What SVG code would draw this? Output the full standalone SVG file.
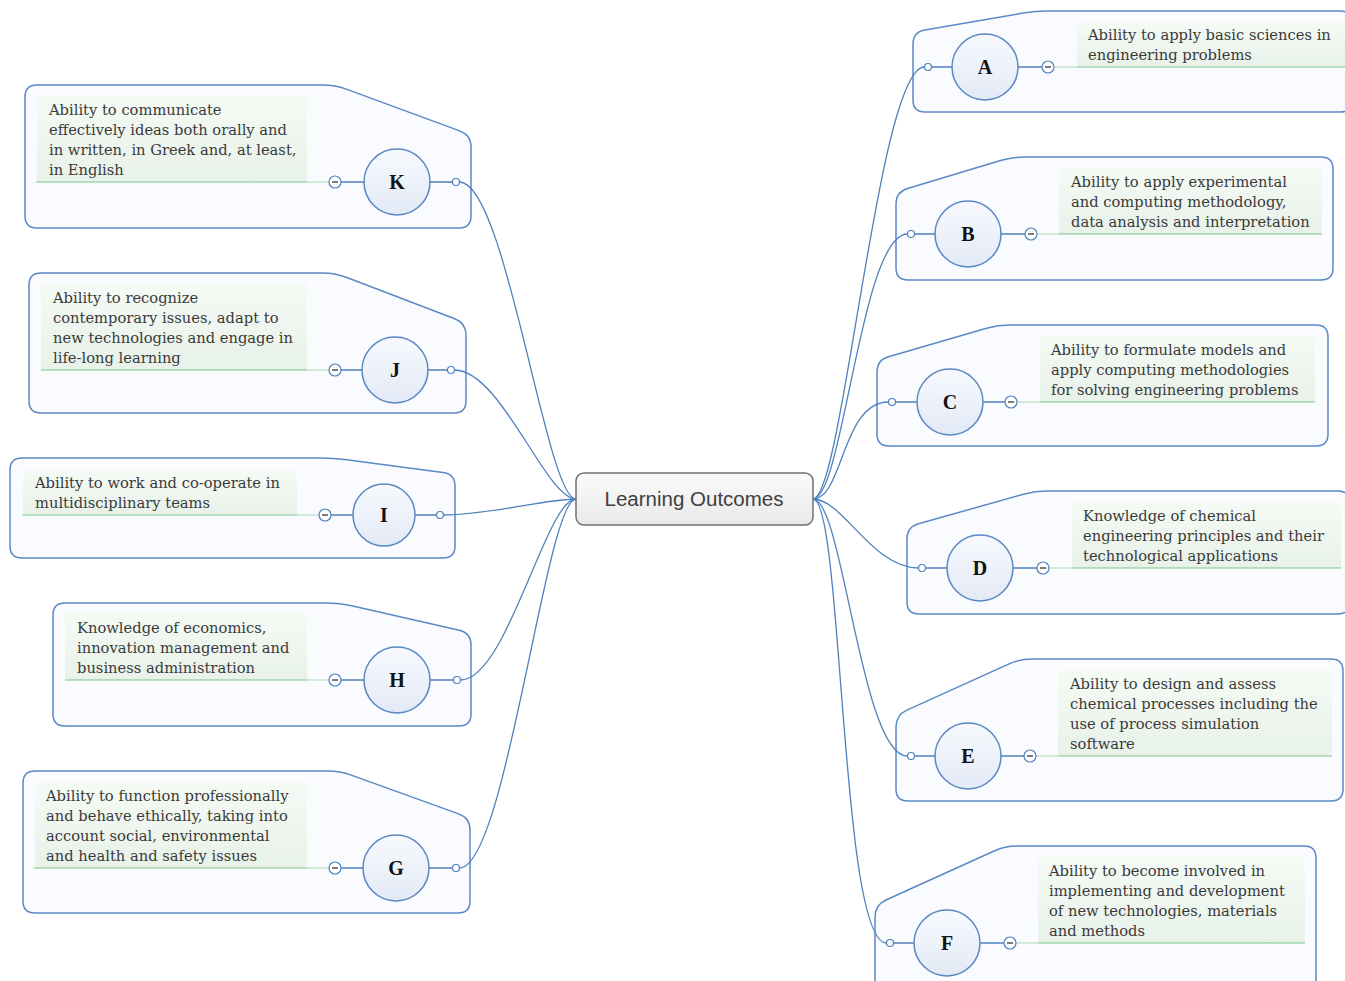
<svg xmlns="http://www.w3.org/2000/svg" width="1345" height="981" viewBox="0 0 1345 981">
<defs>
<linearGradient id="gc" x1="0" y1="0" x2="0" y2="1"><stop offset="0" stop-color="#f7f9fd"/><stop offset="1" stop-color="#e3eaf6"/></linearGradient>
<linearGradient id="gt" x1="0" y1="0" x2="0" y2="1"><stop offset="0" stop-color="#f5faf5"/><stop offset="1" stop-color="#e8f2e9"/></linearGradient>
<linearGradient id="gm" x1="0" y1="0" x2="0" y2="1"><stop offset="0" stop-color="#fbfbfb"/><stop offset="1" stop-color="#e9e9e9"/></linearGradient>
</defs>
<style>
.box{fill:#f9fbfe;stroke:#5a89c6;stroke-width:1.5}
.tb{fill:url(#gt)}
.ul{stroke:#7cc68a;stroke-width:1.2}
.ul2{stroke:#b9dfc0;stroke-width:1.2}
.lk{stroke:#4f81bd;stroke-width:1.3;fill:none}
.nd{fill:url(#gc);stroke:#5b87c3;stroke-width:1.5}
.dot{fill:#fff;stroke:#4f81bd;stroke-width:1.2}
.mn{fill:#fff;stroke:#4f81bd;stroke-width:1.2}
.bar{stroke:#444;stroke-width:1.4}
.t{font-family:"DejaVu Serif",serif;font-size:14.7px;fill:#3a3a3a}
.lt{font-family:"Liberation Serif",serif;font-weight:bold;font-size:20px;fill:#111;text-anchor:middle}
.ct{font-family:"Liberation Sans",Arial,sans-serif;font-size:20.5px;fill:#404040;text-anchor:middle}
</style>

<g id="center">
<rect x="576" y="473" width="237" height="52" rx="8" fill="url(#gm)" stroke="#707070" stroke-width="1.5"/>
<text class="ct" x="694" y="506">Learning Outcomes</text>
</g>

<g id="node-K">
<path class="box" d="M37,85 H323 Q335,85 346.3,89.1 L459.7,130.9 Q471,135 471,147 V216 Q471,228 459,228 H37 Q25,228 25,216 V97 Q25,85 37,85 Z"/>
<rect class="tb" x="37" y="95" width="270" height="87"/>
<line class="ul" x1="36" y1="182" x2="307" y2="182"/><line class="ul2" x1="307" y1="182" x2="329" y2="182"/>
<text class="t"><tspan x="49" y="115">Ability to communicate</tspan><tspan x="49" y="135">effectively ideas both orally and</tspan><tspan x="49" y="155">in written, in Greek and, at least,</tspan><tspan x="49" y="175">in English</tspan></text>
<line class="lk" x1="341" y1="182" x2="456" y2="182"/>
<circle class="nd" cx="397" cy="182" r="33"/><text class="lt" x="397" y="189">K</text>
<circle class="mn" cx="335" cy="182" r="6"/><line class="bar" x1="332" y1="182" x2="338" y2="182"/>
<circle class="dot" cx="456" cy="182" r="3.5"/>
</g>

<g id="node-J">
<path class="box" d="M41,273 H323 Q335,273 346.2,277.3 L454.8,318.7 Q466,323 466,335 V401 Q466,413 454,413 H41 Q29,413 29,401 V285 Q29,273 41,273 Z"/>
<rect class="tb" x="41" y="283" width="266" height="87"/>
<line class="ul" x1="41" y1="370" x2="307" y2="370"/><line class="ul2" x1="307" y1="370" x2="329" y2="370"/>
<text class="t"><tspan x="53" y="303">Ability to recognize</tspan><tspan x="53" y="323">contemporary issues, adapt to</tspan><tspan x="53" y="343">new technologies and engage in</tspan><tspan x="53" y="363">life-long learning</tspan></text>
<line class="lk" x1="341" y1="370" x2="451" y2="370"/>
<circle class="nd" cx="395" cy="370" r="33"/><text class="lt" x="395" y="377">J</text>
<circle class="mn" cx="335" cy="370" r="6"/><line class="bar" x1="332" y1="370" x2="338" y2="370"/>
<circle class="dot" cx="451" cy="370" r="3.5"/>
</g>

<g id="node-I">
<path class="box" d="M22,458 H321 Q333,458 344.9,459.6 L443.1,472.4 Q455,474 455,486 V546 Q455,558 443,558 H22 Q10,558 10,546 V470 Q10,458 22,458 Z"/>
<rect class="tb" x="23" y="470" width="274" height="45"/>
<line class="ul" x1="22" y1="515" x2="297" y2="515"/><line class="ul2" x1="297" y1="515" x2="319" y2="515"/>
<text class="t"><tspan x="35" y="488">Ability to work and co-operate in</tspan><tspan x="35" y="508">multidisciplinary teams</tspan></text>
<line class="lk" x1="331" y1="515" x2="440" y2="515"/>
<circle class="nd" cx="384" cy="515" r="31"/><text class="lt" x="384" y="522">I</text>
<circle class="mn" cx="325" cy="515" r="6"/><line class="bar" x1="322" y1="515" x2="328" y2="515"/>
<circle class="dot" cx="440" cy="515" r="3.5"/>
</g>

<g id="node-H">
<path class="box" d="M65,603 H328 Q340,603 351.7,605.7 L459.3,630.3 Q471,633 471,645 V714 Q471,726 459,726 H65 Q53,726 53,714 V615 Q53,603 65,603 Z"/>
<rect class="tb" x="65" y="613" width="242" height="67"/>
<line class="ul" x1="65" y1="680" x2="307" y2="680"/><line class="ul2" x1="307" y1="680" x2="329" y2="680"/>
<text class="t"><tspan x="77" y="633">Knowledge of economics,</tspan><tspan x="77" y="653">innovation management and</tspan><tspan x="77" y="673">business administration</tspan></text>
<line class="lk" x1="341" y1="680" x2="457" y2="680"/>
<circle class="nd" cx="397" cy="680" r="33"/><text class="lt" x="397" y="687">H</text>
<circle class="mn" cx="335" cy="680" r="6"/><line class="bar" x1="332" y1="680" x2="338" y2="680"/>
<circle class="dot" cx="457" cy="680" r="3.5"/>
</g>

<g id="node-G">
<path class="box" d="M35,771 H328 Q340,771 351.3,775.1 L458.7,813.9 Q470,818 470,830 V901 Q470,913 458,913 H35 Q23,913 23,901 V783 Q23,771 35,771 Z"/>
<rect class="tb" x="35" y="782" width="272" height="86"/>
<line class="ul" x1="34" y1="868" x2="307" y2="868"/><line class="ul2" x1="307" y1="868" x2="329" y2="868"/>
<text class="t"><tspan x="46" y="801">Ability to function professionally</tspan><tspan x="46" y="821">and behave ethically, taking into</tspan><tspan x="46" y="841">account social, environmental</tspan><tspan x="46" y="861">and health and safety issues</tspan></text>
<line class="lk" x1="341" y1="868" x2="456" y2="868"/>
<circle class="nd" cx="396" cy="868" r="33"/><text class="lt" x="396" y="875">G</text>
<circle class="mn" cx="335" cy="868" r="6"/><line class="bar" x1="332" y1="868" x2="338" y2="868"/>
<circle class="dot" cx="456" cy="868" r="3.5"/>
</g>

<g id="node-A">
<path class="box" d="M913,100 V44 Q913,32 924.8,30 L1023.2,13 Q1035,11 1047,11 H1340 Q1352,11 1352,23 V100 Q1352,112 1340,112 H925 Q913,112 913,100 Z"/>
<rect class="tb" x="1077" y="22" width="268" height="45"/>
<line class="ul2" x1="1054" y1="67" x2="1077" y2="67"/><line class="ul" x1="1077" y1="67" x2="1345" y2="67"/>
<text class="t"><tspan x="1088" y="40">Ability to apply basic sciences in</tspan><tspan x="1088" y="60">engineering problems</tspan></text>
<line class="lk" x1="928" y1="67" x2="1042" y2="67"/>
<circle class="nd" cx="985" cy="67" r="33"/><text class="lt" x="985" y="74">A</text>
<circle class="mn" cx="1048" cy="67" r="6"/><line class="bar" x1="1045" y1="67" x2="1051" y2="67"/>
<circle class="dot" cx="928" cy="67" r="3.5"/>
</g>

<g id="node-B">
<path class="box" d="M896,268 V204 Q896,192 907.5,188.5 L1000.5,160.5 Q1012,157 1024,157 H1321 Q1333,157 1333,169 V268 Q1333,280 1321,280 H908 Q896,280 896,268 Z"/>
<rect class="tb" x="1059" y="168" width="263" height="66"/>
<line class="ul2" x1="1037" y1="234" x2="1059" y2="234"/><line class="ul" x1="1059" y1="234" x2="1322" y2="234"/>
<text class="t"><tspan x="1071" y="187">Ability to apply experimental</tspan><tspan x="1071" y="207">and computing methodology,</tspan><tspan x="1071" y="227">data analysis and interpretation</tspan></text>
<line class="lk" x1="911" y1="234" x2="1025" y2="234"/>
<circle class="nd" cx="968" cy="234" r="33"/><text class="lt" x="968" y="241">B</text>
<circle class="mn" cx="1031" cy="234" r="6"/><line class="bar" x1="1028" y1="234" x2="1034" y2="234"/>
<circle class="dot" cx="911" cy="234" r="3.5"/>
</g>

<g id="node-C">
<path class="box" d="M877,434 V372 Q877,360 888.5,356.7 L986.5,328.3 Q998,325 1010,325 H1316 Q1328,325 1328,337 V434 Q1328,446 1316,446 H889 Q877,446 877,434 Z"/>
<rect class="tb" x="1040" y="335" width="275" height="67"/>
<line class="ul2" x1="1017" y1="402" x2="1040" y2="402"/><line class="ul" x1="1040" y1="402" x2="1315" y2="402"/>
<text class="t"><tspan x="1051" y="355">Ability to formulate models and</tspan><tspan x="1051" y="375">apply computing methodologies</tspan><tspan x="1051" y="395">for solving engineering problems</tspan></text>
<line class="lk" x1="892" y1="402" x2="1005" y2="402"/>
<circle class="nd" cx="950" cy="402" r="33"/><text class="lt" x="950" y="409">C</text>
<circle class="mn" cx="1011" cy="402" r="6"/><line class="bar" x1="1008" y1="402" x2="1014" y2="402"/>
<circle class="dot" cx="892" cy="402" r="3.5"/>
</g>

<g id="node-D">
<path class="box" d="M907,602 V539 Q907,527 918.5,523.8 L1023.5,494.2 Q1035,491 1047,491 H1338 Q1350,491 1350,503 V602 Q1350,614 1338,614 H919 Q907,614 907,602 Z"/>
<rect class="tb" x="1072" y="502" width="269" height="66"/>
<line class="ul2" x1="1049" y1="568" x2="1072" y2="568"/><line class="ul" x1="1072" y1="568" x2="1341" y2="568"/>
<text class="t"><tspan x="1083" y="521">Knowledge of chemical</tspan><tspan x="1083" y="541">engineering principles and their</tspan><tspan x="1083" y="561">technological applications</tspan></text>
<line class="lk" x1="922" y1="568" x2="1037" y2="568"/>
<circle class="nd" cx="980" cy="568" r="33"/><text class="lt" x="980" y="575">D</text>
<circle class="mn" cx="1043" cy="568" r="6"/><line class="bar" x1="1040" y1="568" x2="1046" y2="568"/>
<circle class="dot" cx="922" cy="568" r="3.5"/>
</g>

<g id="node-E">
<path class="box" d="M896,789 V727 Q896,715 906.9,710.1 L1009.1,663.9 Q1020,659 1032,659 H1331 Q1343,659 1343,671 V789 Q1343,801 1331,801 H908 Q896,801 896,789 Z"/>
<rect class="tb" x="1058" y="670" width="274" height="86"/>
<line class="ul2" x1="1036" y1="756" x2="1058" y2="756"/><line class="ul" x1="1058" y1="756" x2="1332" y2="756"/>
<text class="t"><tspan x="1070" y="689">Ability to design and assess</tspan><tspan x="1070" y="709">chemical processes including the</tspan><tspan x="1070" y="729">use of process simulation</tspan><tspan x="1070" y="749">software</tspan></text>
<line class="lk" x1="911" y1="756" x2="1024" y2="756"/>
<circle class="nd" cx="968" cy="756" r="33"/><text class="lt" x="968" y="763">E</text>
<circle class="mn" cx="1030" cy="756" r="6"/><line class="bar" x1="1027" y1="756" x2="1033" y2="756"/>
<circle class="dot" cx="911" cy="756" r="3.5"/>
</g>

<g id="node-F">
<path class="box" d="M875,983 V917 Q875,905 885.9,900 L994.1,851 Q1005,846 1017,846 H1304 Q1316,846 1316,858 V983 Q1316,995 1304,995 H887 Q875,995 875,983 Z"/>
<rect class="tb" x="1038" y="857" width="267" height="86"/>
<line class="ul2" x1="1016" y1="943" x2="1038" y2="943"/><line class="ul" x1="1038" y1="943" x2="1305" y2="943"/>
<text class="t"><tspan x="1049" y="876">Ability to become involved in</tspan><tspan x="1049" y="896">implementing and development</tspan><tspan x="1049" y="916">of new technologies, materials</tspan><tspan x="1049" y="936">and methods</tspan></text>
<line class="lk" x1="890" y1="943" x2="1004" y2="943"/>
<circle class="nd" cx="947" cy="943" r="33"/><text class="lt" x="947" y="950">F</text>
<circle class="mn" cx="1010" cy="943" r="6"/><line class="bar" x1="1007" y1="943" x2="1013" y2="943"/>
<circle class="dot" cx="890" cy="943" r="3.5"/>
</g>

<g id="connectors" class="lk">
<path d="M576,499 C546,499 506,182 459.5,182"/>
<path d="M576,499 C546,499 501,370 454.5,370"/>
<path d="M576,499 C546,499 490,515 443.5,515"/>
<path d="M576,499 C546,499 507,680 460.5,680"/>
<path d="M576,499 C546,499 506,868 459.5,868"/>
<path d="M813,499 C843,499 878,67 924.5,67"/>
<path d="M813,499 C843,499 861,234 907.5,234"/>
<path d="M813,499 C843,499 842,402 888.5,402"/>
<path d="M813,499 C843,499 872,568 918.5,568"/>
<path d="M813,499 C843,499 861,756 907.5,756"/>
<path d="M813,499 C843,499 840,943 886.5,943"/>
</g>
</svg>
